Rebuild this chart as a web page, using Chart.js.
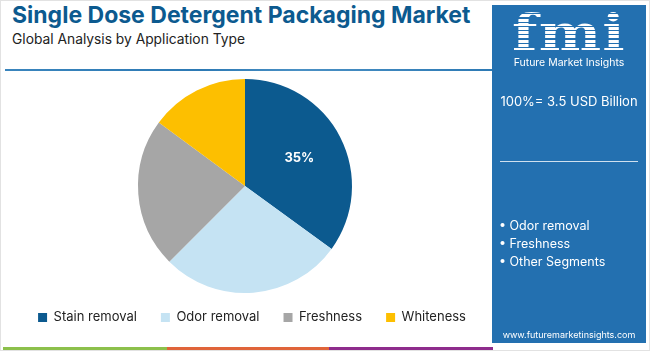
<!DOCTYPE html>
<html>
<head>
<meta charset="utf-8">
<script src="https://cdn.jsdelivr.net/npm/chart.js@4.4.1/dist/chart.umd.min.js"></script>
<style>
  html, body { margin: 0; padding: 0; background: #fff; }
  #wrap { position: relative; width: 650px; height: 351px; overflow: hidden; background: #fff; font-family: "Open Sans", "Noto Sans", sans-serif; }
  #border { position: absolute; left: 0; top: 0; width: 648px; height: 349px; border: 1px solid #e2e2e2; }
  #title { position: absolute; left: 12px; top: 1px; font-family: Inter, "Open Sans", sans-serif; font-weight: 700; font-size: 23px; color: #0c5a8f; white-space: nowrap; }
  #sub { position: absolute; left: 12px; top: 31px; font-family: Inter, "Open Sans", sans-serif; font-size: 13.8px; color: #222; white-space: nowrap; }
  #hline { position: absolute; left: 5px; top: 69px; width: 490px; height: 2px; background: linear-gradient(to right, #3a85bd, #2c79b4 40%, #4a90c4 60%, #2c79b4); }
  #panel { position: absolute; left: 492px; top: 5px; width: 154px; height: 338px; background: #2370b0; color: #fff; }
  #logo { position: absolute; left: 0; top: 1px; width: 154px; text-align: center; font-family: "DejaVu Serif", serif; font-weight: 700; font-size: 50px; line-height: 54px; color: #fff; transform: scaleX(1.18);
    background: repeating-linear-gradient(to bottom, #fff 0px, #fff 3px, #2370b0 3px, #2370b0 4.2px); -webkit-background-clip: text; background-clip: text; -webkit-text-fill-color: transparent; letter-spacing: 1px; }
  #fmiName { position: absolute; left: 0; top: 51px; width: 154px; text-align: center; font-size: 10.5px; font-family: Inter, sans-serif; }
  #total { position: absolute; left: 0; top: 88px; width: 154px; text-align: center; font-size: 13px; font-family: Inter, sans-serif; }
  #pline { position: absolute; left: 8px; top: 156px; width: 138px; height: 1px; background: #cfe0ef; }
  #segs { position: absolute; left: 7px; top: 212px; font-size: 12.5px; line-height: 18px; font-family: Inter, sans-serif; }
  #url { position: absolute; left: 0; top: 324px; width: 154px; text-align: center; font-size: 9px; font-family: Inter, sans-serif; }
  #bar1 { position: absolute; left: 3px; top: 347px; width: 164px; height: 3px; background: #8cc04b; }
  #bar2 { position: absolute; left: 167px; top: 347px; width: 162px; height: 3px; background: #e0643a; }
  #bar3 { position: absolute; left: 329px; top: 347px; width: 164px; height: 3px; background: #8e2c8c; }
  #chartBox { position: absolute; left: -25px; top: 72px; width: 540px; height: 262px; }
</style>
</head>
<body>
<div id="wrap">
  <div id="border"></div>
  <div id="chartBox"><canvas id="c" width="540" height="262"></canvas></div>
  <div id="title">Single Dose Detergent Packaging Market</div>
  <div id="sub">Global Analysis by Application Type</div>
  <div id="hline"></div>
  <div id="panel">
    <div id="logo">fmi</div>
    <div id="fmiName">Future Market Insights</div>
    <div id="total">100%= 3.5 USD Billion</div>
    <div id="pline"></div>
    <div id="segs">• Odor removal<br>• Freshness<br>• Other Segments</div>
    <div id="url">www.futuremarketinsights.com</div>
  </div>
  <div id="bar1"></div><div id="bar2"></div><div id="bar3"></div>
</div>
<script>
const categories = ["Stain removal", "Odor removal", "Freshness", "Whiteness"];
const shares = [35, 27.5, 22.6, 14.9];
const shownLabels = ["35%", "", "", ""];
const colors = ["#0c5a8f", "#c5e3f3", "#a6a6a6", "#fdbf00"];

const labelPlugin = {
  id: 'sliceLabels',
  afterDatasetsDraw(chart) {
    const ctx = chart.ctx;
    const meta = chart.getDatasetMeta(0);
    meta.data.forEach((arc, i) => {
      const txt = shownLabels[i];
      if (!txt) return;
      const mid = (arc.startAngle + arc.endAngle) / 2;
      const r = arc.outerRadius * 0.57;
      const x = arc.x + Math.cos(mid) * r;
      const y = arc.y + Math.sin(mid) * r;
      ctx.save();
      ctx.fillStyle = '#ffffff';
      ctx.font = 'bold 13px Inter, "Open Sans", sans-serif';
      ctx.textAlign = 'center';
      ctx.textBaseline = 'middle';
      ctx.fillText(txt, x, y);
      ctx.restore();
    });
  }
};
const legendShift = {
  id: 'legendShift',
  afterLayout(chart) {
    const lg = chart.legend;
    if (lg) { lg.left += 7; lg.right += 7; }
  }
};

new Chart(document.getElementById('c'), {
  type: 'pie',
  data: {
    labels: categories,
    datasets: [{ data: shares, backgroundColor: colors, borderWidth: 0, hoverOffset: 0, radius: 107 }]
  },
  options: {
    responsive: false,
    animation: false,
    layout: { padding: { top: 13 } },
    plugins: {
      tooltip: { enabled: false },
      legend: {
        position: 'bottom',
        labels: {
          boxWidth: 9, boxHeight: 9, padding: 24,
          color: '#222',
          font: { size: 13, family: 'Inter, "Open Sans", sans-serif' }
        }
      }
    }
  },
  plugins: [labelPlugin, legendShift]
});
</script>
</body>
</html>
